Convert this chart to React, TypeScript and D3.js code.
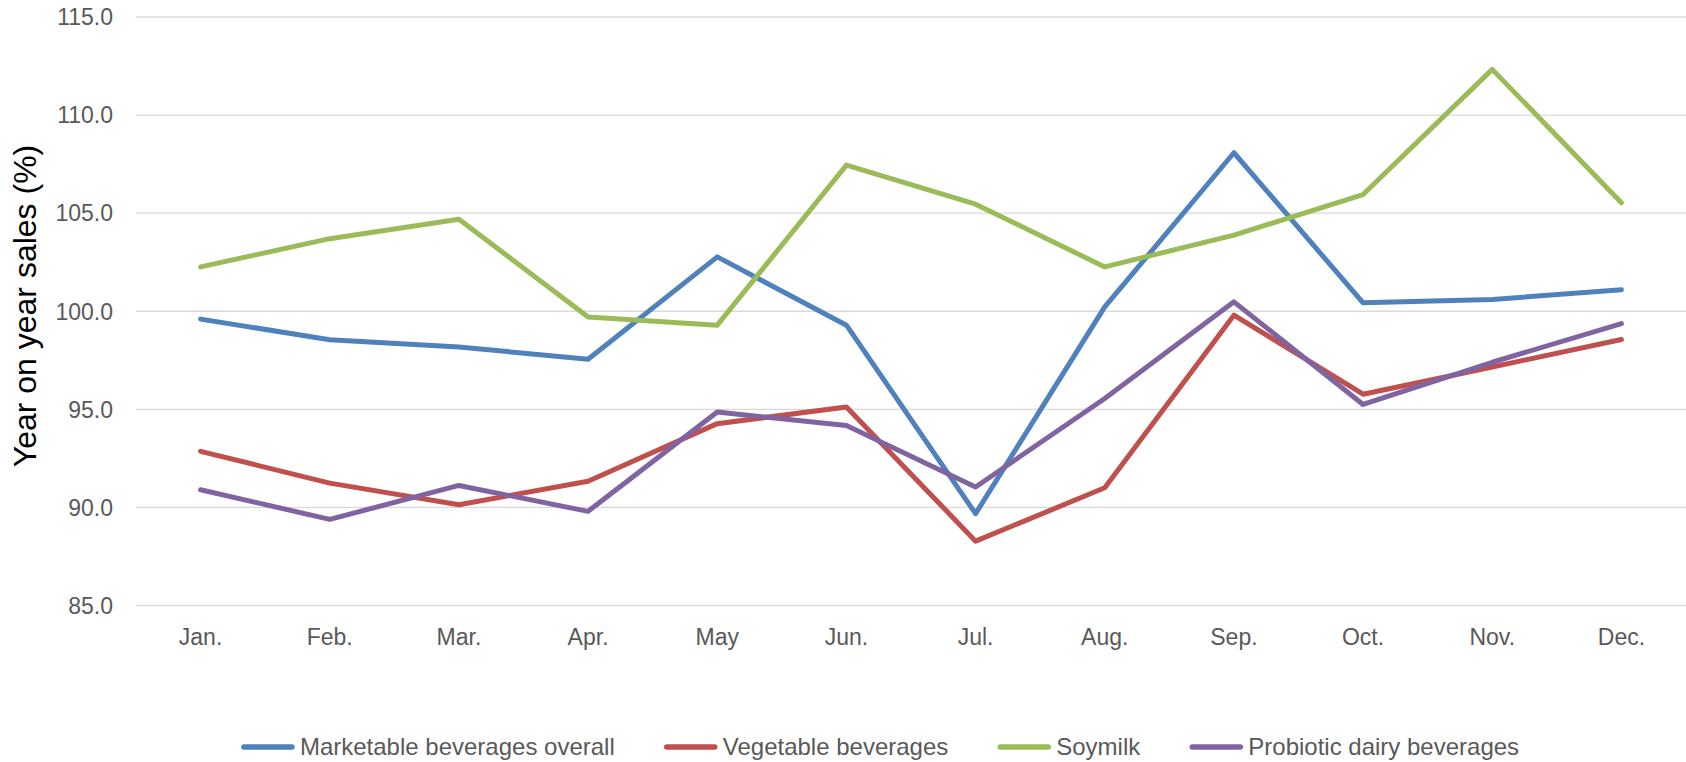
import React, { useMemo } from 'react';
import * as d3 from 'd3';

const months = ['Jan.', 'Feb.', 'Mar.', 'Apr.', 'May', 'Jun.', 'Jul.', 'Aug.', 'Sep.', 'Oct.', 'Nov.', 'Dec.'];

const seriesNames = ['Marketable beverages overall', 'Vegetable beverages', 'Soymilk', 'Probiotic dairy beverages'];
const seriesColors = ['#4F81BD', '#C0504D', '#9BBB59', '#8064A2'];

const marketable = [99.6, 98.55, 98.18, 97.55, 102.77, 99.29, 89.68, 100.22, 108.08, 100.43, 100.6, 101.1];
const vegetable = [92.86, 91.24, 90.14, 91.33, 94.27, 95.12, 88.28, 91.0, 99.8, 95.77, 97.16, 98.56];
const soymilk = [102.26, 103.7, 104.69, 99.71, 99.29, 107.45, 105.46, 102.26, 103.88, 105.95, 112.33, 105.53];
const probiotic = [90.9, 89.39, 91.12, 89.8, 94.86, 94.18, 91.04, 95.55, 100.48, 95.25, 97.4, 99.37];

const yTicks = [85, 90, 95, 100, 105, 110, 115];

const W = 1686;
const H = 762;
const FONT = '"Liberation Sans", Arial, sans-serif';

const App = () => {
  const x = d3.scalePoint<string>().domain(months).range([136, 1686]).padding(0.5);
  const y = d3.scaleLinear().domain([85, 115]).range([605.5, 17]);

  const allSeries = [marketable, vegetable, soymilk, probiotic];

  const line = d3.line<number>()
    .x((d, i) => x(months[i]) as number)
    .y(d => y(d));

  // legend layout, centred under the plot
  const legend = useMemo(() => {
    const ctx = document.createElement('canvas').getContext('2d');
    const widths = seriesNames.map(n => {
      if (!ctx) return n.length * 11;
      ctx.font = `24px ${FONT}`;
      return ctx.measureText(n).width;
    });
    const lineLen = 54;
    const gap = 5;
    const spacing = 49;
    const total = widths.reduce((a, w) => a + lineLen + gap + w, 0) + spacing * (widths.length - 1);
    let cur = 880 - total / 2;
    return widths.map(w => {
      const item = { x: cur, w };
      cur += lineLen + gap + w + spacing;
      return item;
    });
  }, []);

  return (
    <svg width={W} height={H} style={{ position: 'absolute', left: 0, top: 0 }} fontFamily={FONT}>
      <rect width={W} height={H} fill="#fff" />
      <g className="grid">
        {yTicks.map(t => (
          <line key={t} x1={136} x2={1686} y1={y(t)} y2={y(t)} stroke="#D9D9D9" strokeWidth={1.4} />
        ))}
      </g>
      <g className="y-labels">
        {yTicks.map(t => (
          <text key={t} x={113} y={y(t)} dy="0.36em" textAnchor="end" fontSize={23} fill="#595959">
            {t.toFixed(1)}
          </text>
        ))}
      </g>
      <g className="x-labels">
        {months.map(m => (
          <text key={m} x={x(m)} y={645} textAnchor="middle" fontSize={23} fill="#595959">
            {m}
          </text>
        ))}
      </g>
      <text
        transform={`translate(36, 306) rotate(-90)`}
        textAnchor="middle"
        fontSize={32}
        fill="#000"
      >
        Year on year sales (%)
      </text>
      <g className="lines">
        {allSeries.map((s, i) => (
          <path
            key={seriesNames[i]}
            d={line(s) || ''}
            fill="none"
            stroke={seriesColors[i]}
            strokeWidth={5}
            strokeLinejoin="round"
            strokeLinecap="round"
          />
        ))}
      </g>
      <g className="legend">
        {legend.map((l, i) => (
          <g key={seriesNames[i]} transform={`translate(${l.x}, 747)`}>
            <line x1={3} x2={51} y1={0} y2={0} stroke={seriesColors[i]} strokeWidth={5.5} strokeLinecap="round" />
            <text x={59} y={0} dy="0.35em" fontSize={24} fill="#595959">
              {seriesNames[i]}
            </text>
          </g>
        ))}
      </g>
    </svg>
  );
};

export default App;
